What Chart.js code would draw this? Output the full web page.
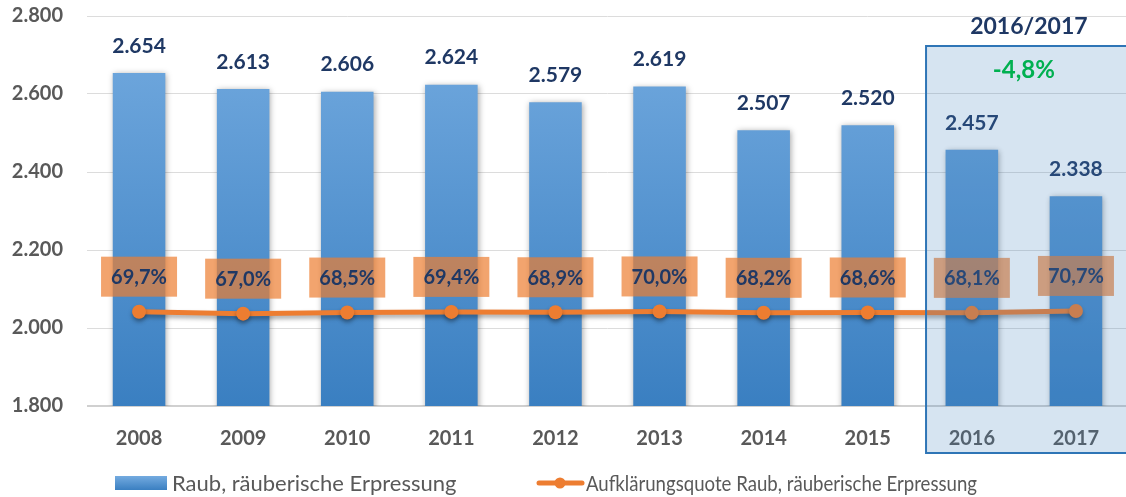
<!DOCTYPE html>
<html lang="de">
<head>
<meta charset="utf-8">
<title>Raub, räuberische Erpressung 2008–2017</title>
<script src="https://cdn.jsdelivr.net/npm/chart.js@4.4.1/dist/chart.umd.min.js"></script>
<style>
    html, body { margin: 0; padding: 0; background: #fff; overflow: hidden; }
    #wrap { position: relative; width: 1135px; height: 497px; }
</style>
</head>
<body>
<div id="wrap"><canvas id="raubChart"></canvas></div>
<script>
// Fallzahlen und Aufklärungsquote
const years = ['2008', '2009', '2010', '2011', '2012', '2013', '2014', '2015', '2016', '2017'];
const faelle = [2654, 2613, 2606, 2624, 2579, 2619, 2507, 2520, 2457, 2338];
const quote = [69.7, 67.0, 68.5, 69.4, 68.9, 70.0, 68.2, 68.6, 68.1, 70.7];
const yTicks = [1800, 2000, 2200, 2400, 2600, 2800];
const highlightYears = ['2016', '2017'];
const highlightTitle = '2016/2017';
const highlightChange = '-4,8%';

const NAVY = '#1f3864';
const GREY = '#595959';
const ORANGE = '#ed7d31';
const FONT = 'Lato, "Open Sans", sans-serif';

function fmtThousands(n) {
    return String(n).replace(/\B(?=(\d{3})+(?!\d))/g, '.');
}

function fmtPercent(v) {
    return v.toFixed(1).replace('.', ',') + '%';
}

function barGradient(ctx, top, bottom) {
    const g = ctx.createLinearGradient(0, top, 0, bottom);
    g.addColorStop(0, '#74abe0');
    g.addColorStop(1, '#3a7fc1');
    return g;
}

// soft shadows under bars and line
const shadowPlugin = {
    id: 'shadows',
    beforeDatasetDraw(chart, args) {
        const ctx = chart.ctx;
        ctx.save();
        if (args.meta.type === 'bar') {
            ctx.shadowColor = 'rgba(0,0,0,0.35)';
            ctx.shadowBlur = 6;
            ctx.shadowOffsetX = 1;
            ctx.shadowOffsetY = 1;
        } else {
            ctx.shadowColor = 'rgba(0,0,0,0.35)';
            ctx.shadowBlur = 4;
            ctx.shadowOffsetX = 0;
            ctx.shadowOffsetY = 3;
        }
    },
    afterDatasetDraw(chart) {
        chart.ctx.restore();
    }
};

// value labels above bars, percentage boxes above the line
const valueLabels = {
    id: 'valueLabels',
    afterDatasetsDraw(chart) {
        const ctx = chart.ctx;
        ctx.save();
        ctx.textAlign = 'center';
        ctx.textBaseline = 'middle';

        const bars = chart.getDatasetMeta(0).data;
        ctx.font = 'bold 21px ' + FONT;
        ctx.fillStyle = NAVY;
        bars.forEach((bar, i) => {
            ctx.fillText(fmtThousands(faelle[i]), bar.x, bar.y - 27);
        });

        const points = chart.getDatasetMeta(1).data;
        ctx.font = 'bold 20px ' + FONT;
        points.forEach((pt, i) => {
            const txt = fmtPercent(quote[i]);
            const w = 76, h = 40;
            const cy = pt.y - 35;
            ctx.fillStyle = 'rgba(237,125,49,0.7)';
            ctx.fillRect(pt.x - w / 2, cy - h / 2, w, h);
            ctx.fillStyle = NAVY;
            ctx.fillText(txt, pt.x, cy + 1);
        });
        ctx.restore();
    }
};

// legend and the highlighted 2016/2017 frame
const overlay = {
    id: 'overlay',
    afterDraw(chart) {
        const ctx = chart.ctx;
        const area = chart.chartArea;
        const x = chart.scales.x;
        const ds = chart.data.datasets;
        ctx.save();

        // legend
        const ly = 483;
        ctx.font = '22px ' + FONT;
        ctx.textBaseline = 'middle';
        ctx.textAlign = 'left';
        ctx.fillStyle = barGradient(ctx, ly - 7, ly + 7);
        ctx.fillRect(115, ly - 7, 52, 14);
        ctx.fillStyle = GREY;
        ctx.fillText(ds[0].label, 172, ly + 1, 290);

        ctx.strokeStyle = ORANGE;
        ctx.lineWidth = 5;
        ctx.lineCap = 'round';
        ctx.beginPath();
        ctx.moveTo(539, ly);
        ctx.lineTo(582, ly);
        ctx.stroke();
        ctx.fillStyle = ORANGE;
        ctx.beginPath();
        ctx.arc(560, ly, 5.5, 0, Math.PI * 2);
        ctx.fill();
        ctx.fillStyle = GREY;
        ctx.fillText(ds[1].label, 586, ly + 1, 391);

        // highlight frame
        const i0 = years.indexOf(highlightYears[0]);
        const i1 = years.indexOf(highlightYears[1]);
        const x0 = x.getPixelForValue(i0);
        const x1 = x.getPixelForValue(i1);
        const step = x1 - x0;
        const left = x0 - 0.44 * step;
        const right = x1 + 0.7 * step;
        const top = area.top + 30;
        const bottom = area.bottom + 47;
        ctx.fillStyle = 'rgba(68,130,190,0.22)';
        ctx.fillRect(left, top, right - left, bottom - top);
        ctx.strokeStyle = '#2e75b6';
        ctx.lineWidth = 2;
        ctx.strokeRect(left, top, right - left, bottom - top);

        const mid = (x0 + x1) / 2;
        ctx.textAlign = 'center';
        ctx.font = 'bold 23px ' + FONT;
        ctx.fillStyle = NAVY;
        ctx.fillText(highlightTitle, mid + 5, area.top + 11);
        ctx.font = 'bold 24px ' + FONT;
        ctx.fillStyle = '#00b050';
        ctx.fillText(highlightChange, mid, area.top + 54);

        ctx.restore();
    }
};

new Chart(document.getElementById('raubChart'), {
    data: {
        labels: years,
        datasets: [
            {
                type: 'bar',
                label: 'Raub, räuberische Erpressung',
                data: faelle,
                yAxisID: 'y',
                order: 2,
                backgroundColor(c) {
                    const a = c.chart.chartArea;
                    if (!a) return '#5b9bd5';
                    return barGradient(c.chart.ctx, a.top, a.bottom);
                },
                categoryPercentage: 1,
                barPercentage: 0.505
            },
            {
                type: 'line',
                label: 'Aufklärungsquote Raub, räuberische Erpressung',
                data: quote,
                yAxisID: 'y1',
                order: 1,
                borderColor: ORANGE,
                backgroundColor: ORANGE,
                borderWidth: 5,
                pointRadius: 7,
                pointBorderWidth: 0,
                pointHoverRadius: 7,
                tension: 0
            }
        ]
    },
    options: {
        responsive: true,
        maintainAspectRatio: false,
        animation: false,
        layout: { padding: { top: 16, left: 0, right: 0, bottom: 0 } },
        plugins: {
            legend: { display: false },
            tooltip: { enabled: false }
        },
        scales: {
            x: {
                grid: { display: false },
                border: { display: false },
                ticks: {
                    color: GREY,
                    font: { family: FONT, size: 20, weight: 'bold' },
                    padding: 13
                },
                afterFit(scale) {
                    scale.height = 91;
                    scale.paddingLeft = 0;
                    scale.paddingRight = 0;
                }
            },
            y: {
                min: 1800,
                max: 2800,
                afterBuildTicks(scale) {
                    scale.ticks = yTicks.map(v => ({ value: v }));
                },
                grid: {
                    color(c) { return c.tick && c.tick.value === 1800 ? '#d0d0d0' : '#dcdcdc'; },
                    lineWidth(c) { return c.tick && c.tick.value === 1800 ? 2 : 1; },
                    drawTicks: false
                },
                border: { display: false },
                ticks: {
                    color: GREY,
                    font: { family: FONT, size: 20, weight: 'bold' },
                    padding: 24,
                    callback: v => fmtThousands(v)
                },
                afterFit(scale) {
                    scale.width = 87;
                    scale.paddingTop = 0;
                    scale.paddingBottom = 0;
                }
            },
            // hidden percent axis, keeps the quota line low and nearly flat
            y1: {
                display: false,
                position: 'right',
                min: -58,
                max: 470
            }
        }
    },
    plugins: [shadowPlugin, valueLabels, overlay]
});
</script>
</body>
</html>
